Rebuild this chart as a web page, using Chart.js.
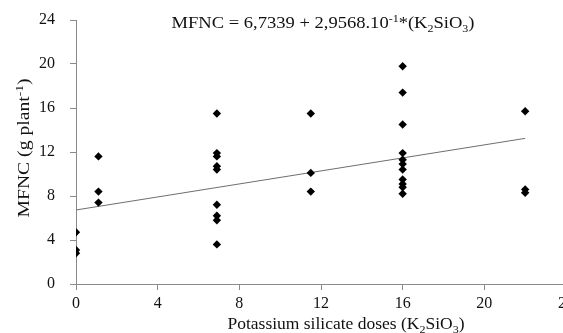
<!DOCTYPE html>
<html>
<head>
<meta charset="utf-8">
<script src="https://cdn.jsdelivr.net/npm/chart.js@4/dist/chart.umd.min.js"></script>
<style>
  html, body { margin: 0; padding: 0; background: #fff; overflow: hidden; }
  #wrap { width: 563px; height: 333px; overflow: hidden; }
  canvas { display: block; }
</style>
</head>
<body>
<div id="wrap"><canvas id="chart" width="578" height="333"></canvas></div>
<script>
  const doseX = [0, 0, 0,
    1.1, 1.1, 1.1,
    6.9, 6.9, 6.9, 6.9, 6.9, 6.9, 6.9, 6.9, 6.9,
    11.5, 11.5, 11.5,
    16, 16, 16, 16, 16, 16, 16, 16, 16, 16, 16,
    22, 22, 22];
  const mfncY = [4.7, 3.1, 2.8,
    11.6, 8.4, 7.4,
    15.5, 11.9, 11.6, 10.7, 10.4, 7.2, 6.2, 5.8, 3.6,
    15.5, 10.1, 8.4,
    19.8, 17.4, 14.5, 11.9, 11.3, 10.9, 10.4, 9.5, 9.1, 8.8, 8.2,
    15.7, 8.6, 8.3];

  // Fitted line end points (MFNC = 6.7339 + 0.29568 * dose)
  const trendX = [0, 22];
  const trendY = [6.73, 13.24];

  const xTicks = [0, 4, 8, 12, 16, 20, 24];
  const yTicks = [0, 4, 8, 12, 16, 20, 24];

  const FONT = "'Liberation Serif', 'DejaVu Serif', serif";
  const AXIS_GREY = "#8a8a8a";

  // draw text with sub/superscripts: parts = [[text, 0|1|-1], ...]
  // the run is centred on x and stretched to the given width
  function richText(ctx, parts, x, y, size, width) {
    const small = Math.round(size * 0.66);
    let w = 0;
    parts.forEach(p => {
      ctx.font = (p[1] ? small : size) + "px " + FONT;
      w += ctx.measureText(p[0]).width;
    });
    const k = width / w;
    ctx.save();
    ctx.translate(x - width / 2, y);
    ctx.scale(k, 1);
    ctx.textAlign = "left";
    ctx.textBaseline = "alphabetic";
    let cx = 0;
    parts.forEach(p => {
      ctx.font = (p[1] ? small : size) + "px " + FONT;
      let dy = 0;
      if (p[1] === 1) dy = -size * 0.38;
      if (p[1] === -1) dy = size * 0.22;
      ctx.fillText(p[0], cx, dy);
      cx += ctx.measureText(p[0]).width;
    });
    ctx.restore();
  }

  const labelsPlugin = {
    id: "labels",
    afterDraw(chart) {
      const ctx = chart.ctx;
      ctx.save();
      ctx.fillStyle = "#111";
      richText(ctx, [["MFNC = 6,7339 + 2,9568.10", 0], ["-1", 1], ["*(K", 0], ["2", -1], ["SiO", 0], ["3", -1], [")", 0]],
        323, 28, 17, 303);
      richText(ctx, [["Potassium silicate doses (K", 0], ["2", -1], ["SiO", 0], ["3", -1], [")", 0]],
        346, 329, 16, 237);
      ctx.translate(29, 148);
      ctx.rotate(-Math.PI / 2);
      richText(ctx, [["MFNC (g plant", 0], ["-1", 1], [")", 0]], 0, 0, 16, 139);
      ctx.restore();
    }
  };

  const points = doseX.map((x, i) => ({ x, y: mfncY[i] }));
  const trend = trendX.map((x, i) => ({ x, y: trendY[i] }));

  new Chart(document.getElementById("chart").getContext("2d"), {
    type: "scatter",
    data: {
      datasets: [
        {
          label: "MFNC",
          data: points,
          pointStyle: "rectRot",
          pointRadius: 4.2,
          backgroundColor: "#000",
          borderColor: "#000",
          borderWidth: 0
        },
        {
          type: "line",
          label: "fit",
          data: trend,
          borderColor: "#6e6e6e",
          borderWidth: 1,
          pointRadius: 0,
          fill: false
        }
      ]
    },
    options: {
      responsive: false,
      animation: false,
      layout: { padding: { top: 20, left: 0, right: 0, bottom: 0 } },
      plugins: { legend: { display: false }, tooltip: { enabled: false } },
      scales: {
        x: {
          type: "linear",
          min: 0, max: 24,
          afterBuildTicks: s => { s.ticks = xTicks.map(v => ({ value: v })); },
          afterFit: s => { s.height = 49; },
          border: { display: true, color: AXIS_GREY, width: 1 },
          grid: { drawOnChartArea: false, drawTicks: true, tickLength: 6, color: AXIS_GREY },
          ticks: { padding: 4, color: "#111", font: { family: FONT, size: 16 } }
        },
        y: {
          type: "linear",
          min: 0, max: 24,
          afterBuildTicks: s => { s.ticks = yTicks.map(v => ({ value: v })); },
          afterFit: s => { s.width = 76; s.paddingTop = 0; s.paddingBottom = 0; },
          border: { display: true, color: AXIS_GREY, width: 1 },
          grid: { drawOnChartArea: false, drawTicks: true, tickLength: 6, color: AXIS_GREY },
          ticks: { padding: 15, color: "#111", font: { family: FONT, size: 16, lineHeight: 1 } }
        }
      }
    },
    plugins: [labelsPlugin]
  });
</script>
</body>
</html>
